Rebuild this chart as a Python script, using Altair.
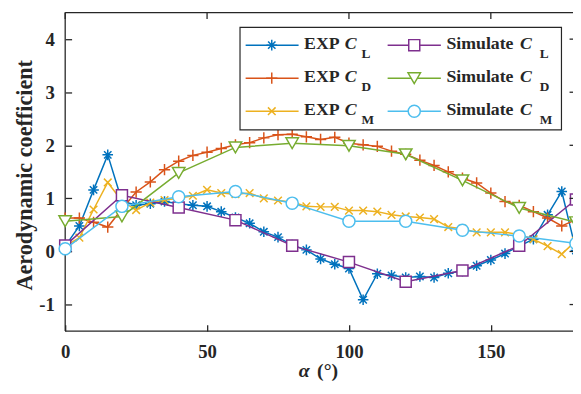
import altair as alt
import pandas as pd

# ---------------- data ----------------
alpha_exp = [0, 5, 10, 15, 20, 25, 30, 35, 40, 45, 50, 55, 60, 65, 70, 75, 80, 85, 90,
             95, 100, 105, 110, 115, 120, 125, 130, 135, 140, 145, 150, 155, 160, 165,
             170, 175, 180]
exp_cl = [0.10, 0.48, 1.16, 1.82, 0.95, 0.87, 0.90, 0.94, 0.90, 0.87, 0.85, 0.75, 0.64,
          0.53, 0.37, 0.27, 0.12, 0.03, -0.14, -0.24, -0.32, -0.91, -0.42, -0.45, -0.49,
          -0.47, -0.49, -0.41, -0.37, -0.27, -0.16, -0.04, 0.10, 0.23, 0.69, 1.13, 0.02]
exp_cd = [0.63, 0.63, 0.55, 0.46, 0.80, 1.12, 1.31, 1.54, 1.70, 1.81, 1.87, 1.94, 2.01,
          2.05, 2.14, 2.20, 2.21, 2.16, 2.11, 2.15, 2.04, 2.01, 1.98, 1.89, 1.83, 1.72,
          1.62, 1.50, 1.38, 1.29, 1.10, 0.94, 0.87, 0.75, 0.63, 0.48, 0.60]
exp_cm = [0.10, 0.26, 0.79, 1.30, 0.95, 0.78, 0.92, 0.97, 1.00, 1.05, 1.16, 1.10, 1.08,
          1.10, 1.00, 0.96, 0.93, 0.85, 0.84, 0.84, 0.77, 0.77, 0.75, 0.69, 0.66, 0.64,
          0.61, 0.46, 0.43, 0.36, 0.36, 0.36, 0.32, 0.23, 0.10, -0.05, 0.20]

alpha_sim = [0, 20, 40, 60, 80, 100, 120, 140, 160, 180]
sim_cl = [0.11, 1.06, 0.83, 0.59, 0.11, -0.20, -0.57, -0.36, 0.11, 0.98]
sim_cd = [0.57, 0.66, 1.48, 1.96, 2.04, 1.99, 1.83, 1.34, 0.82, 0.55]
sim_cm = [0.05, 0.85, 1.03, 1.13, 0.91, 0.57, 0.57, 0.40, 0.29, 0.15]

x_ticks = [0, 50, 100, 150]
y_ticks = [-1, 0, 1, 2, 3, 4]

legend_main = ["EXP", "EXP", "EXP", "Simulate", "Simulate", "Simulate"]
legend_sub = ["L", "D", "M", "L", "D", "M"]

# ---------------- style ----------------
W_FULL = 518      # full plot width (right edge lies just past the picture)
W_VIS = 515       # visible part
H = 323
FONT = "Liberation Serif"
AX = "#262626"
TICK = 6.5

ASTER = "M-1,0L1,0M0,-1L0,1M-0.7,-0.7L0.7,0.7M-0.7,0.7L0.7,-0.7"
PLUS = "M-1,0L1,0M0,-1L0,1"
XMARK = "M-1,-1L1,1M-1,1L1,-1"

series = [
    (exp_cl, alpha_exp, "#0072BD", ASTER, 115, False),
    (exp_cd, alpha_exp, "#D95319", PLUS, 130, False),
    (exp_cm, alpha_exp, "#EDB120", XMARK, 60, False),
    (sim_cl, alpha_sim, "#7E2F8E", "square", 125, True),
    (sim_cd, alpha_sim, "#77AC30", "triangle-down", 160, True),
    (sim_cm, alpha_sim, "#4DBEEE", "circle", 150, True),
]

xs = alt.Scale(domain=[0, 180], range=[0, W_FULL], nice=False, zero=False)
ys = alt.Scale(domain=[-1.5, 4.5], nice=False, zero=False)

xaxis = alt.Axis(values=x_ticks, title=None, domain=False, grid=False,
                 tickSize=TICK, tickWidth=1.3, tickColor=AX, offset=-TICK,
                 labelFont=FONT, labelFontWeight="bold", labelFontSize=19,
                 labelColor=AX, labelPadding=12, labelFlush=False, labelOverlap=False)
yaxis = alt.Axis(values=y_ticks, title=None, domain=False, grid=False,
                 tickSize=TICK, tickWidth=1.3, tickColor=AX, offset=-TICK,
                 labelFont=FONT, labelFontWeight="bold", labelFontSize=19,
                 labelColor=AX, labelPadding=11, labelFlush=False,
                 labelExpr="'' + datum.value")

one = pd.DataFrame({"d": [0]})
layers = []

# frame (left, top, bottom)
layers.append(alt.Chart(one).mark_rule(color=AX, strokeWidth=1.3).encode(
    x=alt.value(0), x2=alt.value(W_FULL), y=alt.value(0)))
layers.append(alt.Chart(one).mark_rule(color=AX, strokeWidth=1.3).encode(
    x=alt.value(0), x2=alt.value(W_FULL), y=alt.value(H)))
layers.append(alt.Chart(one).mark_rule(color=AX, strokeWidth=1.3).encode(
    x=alt.value(0), y=alt.value(0), y2=alt.value(H)))

for vals, alphas, color, shape, size, wfill in series:
    df = pd.DataFrame({"a": alphas, "v": vals})
    base = alt.Chart(df).encode(
        x=alt.X("a:Q", scale=xs, axis=xaxis),
        y=alt.Y("v:Q", scale=ys, axis=yaxis),
    )
    layers.append(base.mark_line(color=color, strokeWidth=1.5))
    if wfill:
        pts = base.mark_point(shape=shape, size=size, stroke=color, strokeWidth=1.5,
                              fill="white", fillOpacity=1, opacity=1)
    else:
        pts = base.mark_point(shape=shape, size=size, stroke=color, strokeWidth=1.5,
                              filled=False, opacity=1)
    layers.append(pts)

# inward ticks on top and right edges
tdf_x = pd.DataFrame({"t": x_ticks})
tdf_y = pd.DataFrame({"t": y_ticks})
layers.append(alt.Chart(tdf_x).mark_rule(color=AX, strokeWidth=1.3).encode(
    x=alt.X("t:Q", scale=xs, axis=xaxis), y=alt.value(0), y2=alt.value(TICK)))
layers.append(alt.Chart(tdf_y).mark_rule(color=AX, strokeWidth=1.3).encode(
    y=alt.Y("t:Q", scale=ys, axis=yaxis), x=alt.value(W_FULL - TICK), x2=alt.value(W_FULL)))

# ---------------- legend ----------------
layers.append(alt.Chart(one).mark_rect(fill="white", stroke=AX, strokeWidth=1.2).encode(
    x=alt.value(177.3), x2=alt.value(503.3), y=alt.value(15), y2=alt.value(119)))

rows_y = [33, 66.5, 100]
cols = [  # line x0, line x1, marker x, main text x, C x, sub x
    (183, 236.7, 209.5, 242.3, 283.5, 300.5),
    (327, 381, 354, 386.7, 461.2, 481.3),
]
for i, (vals, alphas, color, shape, size, wfill) in enumerate(series):
    c = cols[i // 3]
    ry = rows_y[i % 3]
    layers.append(alt.Chart(one).mark_rule(color=color, strokeWidth=1.5).encode(
        x=alt.value(c[0]), x2=alt.value(c[1]), y=alt.value(ry)))
    if wfill:
        mk = alt.Chart(one).mark_point(shape=shape, size=size, stroke=color, strokeWidth=1.5,
                                       fill="white", fillOpacity=1, opacity=1)
    else:
        mk = alt.Chart(one).mark_point(shape=shape, size=size, stroke=color, strokeWidth=1.5,
                                       filled=False, opacity=1)
    layers.append(mk.encode(x=alt.value(c[2]), y=alt.value(ry)))
    layers.append(alt.Chart(one).mark_text(
        text=legend_main[i], font=FONT, fontWeight="bold", fontSize=18, color=AX,
        align="left", baseline="alphabetic").encode(x=alt.value(c[3]), y=alt.value(ry + 3.5)))
    layers.append(alt.Chart(one).mark_text(
        text="C", font=FONT, fontWeight="bold", fontStyle="italic", fontSize=18, color=AX,
        align="left", baseline="alphabetic").encode(x=alt.value(c[4]), y=alt.value(ry + 3.5)))
    layers.append(alt.Chart(one).mark_text(
        text=legend_sub[i], font=FONT, fontWeight="bold", fontSize=13.5, color=AX,
        align="left", baseline="alphabetic").encode(x=alt.value(c[5]), y=alt.value(ry + 13.4)))

# ---------------- axis titles ----------------
layers.append(alt.Chart(one).mark_text(
    text="α", font=FONT, fontWeight="bold", fontStyle="italic", fontSize=20, color=AX,
    align="center", baseline="alphabetic").encode(x=alt.value(242.5), y=alt.value(370)))
layers.append(alt.Chart(one).mark_text(
    text="(°)", font=FONT, fontWeight="bold", fontSize=20, color=AX,
    align="left", baseline="alphabetic").encode(x=alt.value(255.5), y=alt.value(370)))
layers.append(alt.Chart(one).mark_text(
    text="Aerodynamic coefficient", font=FONT, fontWeight="bold", fontSize=22.5, color=AX,
    angle=270, align="center", baseline="middle").encode(x=alt.value(-41), y=alt.value(165)))

chart = alt.layer(*layers).properties(
    width=W_VIS, height=H,
    autosize=alt.AutoSizeParams(type="none"),
    padding={"left": 58, "top": 2, "right": 0, "bottom": 51},
    background="white",
).configure_view(stroke=None)

chart.save("out.html", embed_options={"renderer": "svg", "actions": False})
